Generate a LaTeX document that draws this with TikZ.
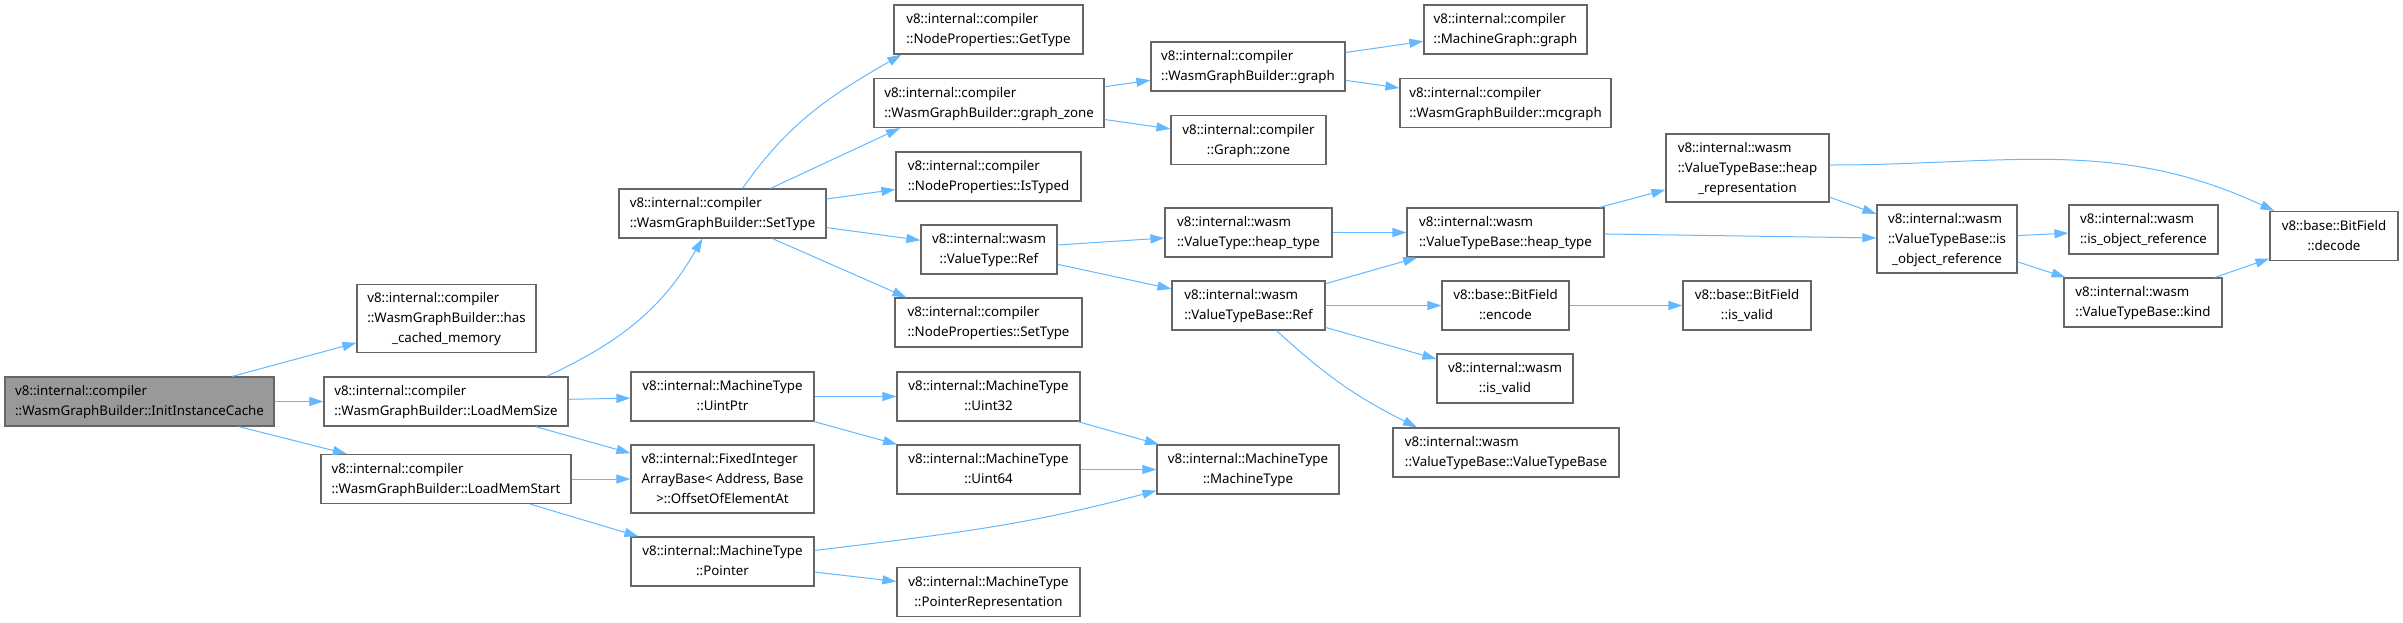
\documentclass[tikz,border=0pt]{standalone}
\usepackage{fontspec}
\setmainfont{Noto Sans}
\usepackage{tikz}
\usetikzlibrary{arrows.meta, positioning}
\definecolor{edgeblue}{RGB}{99, 184, 255}
\definecolor{boxgray}{RGB}{102, 102, 102}
\definecolor{rootgray}{RGB}{153, 153, 153}
\newcommand{\twoline}[2]{\begin{tabular}{@{}l@{}}#1\\\multicolumn{1}{@{}c@{}}{#2}\end{tabular}}
\newcommand{\threeline}[3]{\begin{tabular}{@{}l@{}}#1\\#2\\\multicolumn{1}{@{}c@{}}{#3}\end{tabular}}

\begin{document}
\begin{tikzpicture}[
    x=1pt, y=-1pt,
    fn/.style={draw=boxgray, line width=1.2pt, fill=white, minimum height=49pt,
               inner sep=0pt, font=\fontsize{13.3}{20}\selectfont},
    fn3/.style={fn, minimum height=68pt},
    call/.style={draw=edgeblue, line width=1pt, -{Triangle[length=14pt, width=9pt]}}
]
    \useasboundingbox (0,0) rectangle (2403,622);

    \node[fn, fill=rootgray, minimum width=269pt] (init) at (139.5,401.5) {\twoline{v8::internal::compiler}{::WasmGraphBuilder::InitInstanceCache}};
    \node[fn3, minimum width=179pt] (hascache) at (446.5,318.5) {\threeline{v8::internal::compiler}{::WasmGraphBuilder::has}{\_cached\_memory}};
    \node[fn, minimum width=244pt] (memsize) at (446,401.5) {\twoline{v8::internal::compiler}{::WasmGraphBuilder::LoadMemSize}};
    \node[fn, minimum width=250pt] (memstart) at (446,479) {\twoline{v8::internal::compiler}{::WasmGraphBuilder::LoadMemStart}};

    \node[fn, minimum width=207pt] (settype) at (722.5,213.5) {\twoline{v8::internal::compiler}{::WasmGraphBuilder::SetType}};
    \node[fn, minimum width=183pt] (uintptr) at (722.5,396.5) {\twoline{v8::internal::MachineType}{::UintPtr}};
    \node[fn3, minimum width=183pt] (offset) at (722.5,479) {\threeline{v8::internal::FixedInteger}{ArrayBase< Address, Base}{>::OffsetOfElementAt}};
    \node[fn, minimum width=183pt] (pointer) at (722.5,561.5) {\twoline{v8::internal::MachineType}{::Pointer}};

    \node[fn, minimum width=189pt] (gettype) at (988.5,29.5) {\twoline{v8::internal::compiler}{::NodeProperties::GetType}};
    \node[fn, minimum width=230pt] (graphzone) at (989,103) {\twoline{v8::internal::compiler}{::WasmGraphBuilder::graph\_zone}};
    \node[fn, minimum width=185pt] (istyped) at (988.5,176.5) {\twoline{v8::internal::compiler}{::NodeProperties::IsTyped}};
    \node[fn, minimum width=136pt] (vtref) at (989,249.5) {\twoline{v8::internal::wasm}{::ValueType::Ref}};
    \node[fn, minimum width=187pt] (npsettype) at (988.5,322.5) {\twoline{v8::internal::compiler}{::NodeProperties::SetType}};
    \node[fn, minimum width=183pt] (uint32) at (988.5,396.5) {\twoline{v8::internal::MachineType}{::Uint32}};
    \node[fn, minimum width=183pt] (uint64) at (988.5,469.5) {\twoline{v8::internal::MachineType}{::Uint64}};
    \node[fn, minimum width=183pt] (ptrrep) at (988.5,592) {\twoline{v8::internal::MachineType}{::PointerRepresentation}};

    \node[fn, minimum width=194pt] (wgbgraph) at (1248,66.5) {\twoline{v8::internal::compiler}{::WasmGraphBuilder::graph}};
    \node[fn, minimum width=155pt] (zone) at (1248.5,140) {\twoline{v8::internal::compiler}{::Graph::zone}};
    \node[fn, minimum width=167pt] (vtheap) at (1248.5,232.5) {\twoline{v8::internal::wasm}{::ValueType::heap\_type}};
    \node[fn, minimum width=153pt] (vtbref) at (1248.5,305.5) {\twoline{v8::internal::wasm}{::ValueTypeBase::Ref}};
    \node[fn, minimum width=182pt] (mtype) at (1248,469.5) {\twoline{v8::internal::MachineType}{::MachineType}};

    \node[fn, minimum width=163pt] (mggraph) at (1505.5,29.5) {\twoline{v8::internal::compiler}{::MachineGraph::graph}};
    \node[fn, minimum width=211pt] (mcgraph) at (1505.5,103) {\twoline{v8::internal::compiler}{::WasmGraphBuilder::mcgraph}};
    \node[fn, minimum width=197pt] (vtbheap) at (1505.5,232.5) {\twoline{v8::internal::wasm}{::ValueTypeBase::heap\_type}};
    \node[fn, minimum width=127pt] (encode) at (1505.5,305.5) {\twoline{v8::base::BitField}{::encode}};
    \node[fn, minimum width=136pt] (isvalid) at (1505,378.5) {\twoline{v8::internal::wasm}{::is\_valid}};
    \node[fn, minimum width=226pt] (vtbctor) at (1506,452.5) {\twoline{v8::internal::wasm}{::ValueTypeBase::ValueTypeBase}};

    \node[fn3, minimum width=163pt] (heaprep) at (1747.5,168) {\threeline{v8::internal::wasm}{::ValueTypeBase::heap}{\_representation}};
    \node[fn, minimum width=128pt] (bfvalid) at (1747,305.5) {\twoline{v8::base::BitField}{::is\_valid}};
    \node[fn3, minimum width=140pt] (isobjref) at (1947,239) {\threeline{v8::internal::wasm}{::ValueTypeBase::is}{\_object\_reference}};
    \node[fn, minimum width=149pt] (wisobjref) at (2143.5,229.5) {\twoline{v8::internal::wasm}{::is\_object\_reference}};
    \node[fn, minimum width=158pt] (kind) at (2143,302.5) {\twoline{v8::internal::wasm}{::ValueTypeBase::kind}};
    \node[fn, minimum width=128pt] (decode) at (2334,236) {\twoline{v8::base::BitField}{::decode}};

    % calls
    \draw[call] (init) -- (hascache);
    \draw[call] (init) -- (memsize);
    \draw[call] (init) -- (memstart);
    \draw[call] ([xshift=-22pt]memsize.north east) to[out=25, in=-120] ([xshift=-20pt]settype.south);
    \draw[call] (memsize) -- (uintptr);
    \draw[call] (memsize) -- (offset);
    \draw[call] (memstart) -- (offset);
    \draw[call] (memstart) -- (pointer);
    \draw[call] ([xshift=20pt]settype.north) to[out=55, in=-150] ([xshift=8pt]gettype.south west);
    \draw[call] ([xshift=48pt]settype.north) -- ([xshift=-89pt]graphzone.south);
    \draw[call] (settype) -- (istyped);
    \draw[call] (settype) -- (vtref);
    \draw[call] ([xshift=50pt]settype.south) -- ([xshift=12pt]npsettype.north west);
    \draw[call] (graphzone) -- (wgbgraph);
    \draw[call] (graphzone) -- (zone);
    \draw[call] (wgbgraph) -- (mggraph);
    \draw[call] (wgbgraph) -- (mcgraph);
    \draw[call] (vtref) -- (vtheap);
    \draw[call] (vtref) -- (vtbref);
    \draw[call] (vtheap) -- (vtbheap);
    \draw[call] (vtbref) -- (vtbheap);
    \draw[call] (vtbref) -- (encode);
    \draw[call] (vtbref) -- (isvalid);
    \draw[call] ([xshift=28pt]vtbref.south) to[bend right=8] ([xshift=-89pt]vtbctor.north);
    \draw[call] (encode) -- (bfvalid);
    \draw[call] (vtbheap) -- (heaprep);
    \draw[call] (vtbheap) -- (isobjref);
    \draw[call] (heaprep) -- (isobjref);
    \draw[call] ([yshift=3pt]heaprep.east) to[out=0, in=155] ([xshift=5pt]decode.north west);
    \draw[call] (isobjref) -- (wisobjref);
    \draw[call] (isobjref) -- (kind);
    \draw[call] (kind) -- (decode);
    \draw[call] (uintptr) -- (uint32);
    \draw[call] (uintptr) -- (uint64);
    \draw[call] (uint32) -- (mtype);
    \draw[call] (uint64) -- (mtype);
    \draw[call] ([yshift=11pt]pointer.east) to[out=7, in=-165] ([yshift=4pt]mtype.south west);
    \draw[call] (pointer) -- (ptrrep);
\end{tikzpicture}
\end{document}
